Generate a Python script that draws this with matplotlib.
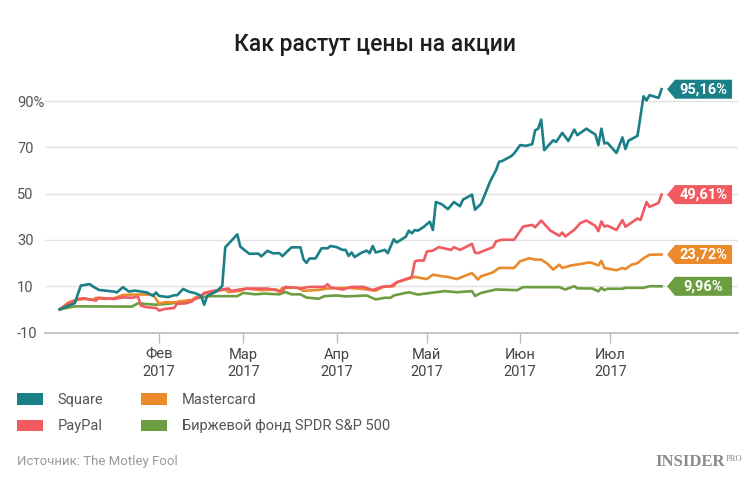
import pandas as pd
import matplotlib
matplotlib.use("Agg")
import matplotlib.pyplot as plt
import matplotlib.dates as mdates
import matplotlib.transforms as mtransforms
from matplotlib.patches import Patch, Polygon

plt.rcParams["font.family"] = ["Roboto", "DejaVu Sans"]

# дни от 1 января 2017, значения в % изменения цены
start = pd.Timestamp("2017-01-01")

sq_days = [-2, 3, 5, 8, 9, 11, 16, 17, 19, 21, 23, 27, 29, 30, 31, 34, 36, 37, 39, 41,
           43, 45, 46, 47, 50, 52, 53, 57, 58, 61, 64, 65, 67, 69, 71, 72, 75, 78, 79, 80,
           81, 83, 85, 87, 88, 90, 92, 93, 94, 95, 96, 98, 100, 101, 102, 103, 106, 107, 109, 110,
           113, 114, 115, 116, 117, 119, 121, 122, 123, 125, 127, 129, 131, 132, 135, 136, 138, 139, 141, 143,
           144, 145, 148, 149, 151, 153, 155, 156, 157, 158, 159, 162, 163, 165, 167, 169, 170, 173, 175, 176,
           177, 178, 179, 180, 183, 185, 186, 187, 190, 192, 193, 194, 197, 198]
sq_vals = [0, 2.7, 10.3, 10.9, 9.9, 8.4, 7.7, 7.3, 9.6, 7.7, 8.1, 7.3, 5.8, 7.3, 5.8, 5.3, 6.1, 6.1, 8.8, 7.6,
           7.0, 5.8, 2.0, 5.8, 7.7, 10.1, 26.8, 32.4, 27.1, 24.0, 24.1, 22.9, 25.3, 24.2, 24.3, 23.0, 26.8, 26.8, 21.6, 20.1,
           22.0, 22.0, 26.4, 26.4, 27.4, 26.9, 25.7, 25.7, 23.1, 24.6, 22.6, 24.3, 25.4, 24.3, 27.4, 24.6, 25.7, 24.3, 30.3, 28.9,
           31.4, 34.0, 32.9, 34.3, 34.0, 35.7, 37.9, 34.3, 46.4, 45.4, 43.3, 46.4, 44.6, 47.4, 49.6, 43.1, 45.6, 48.7, 55.2, 60.2,
           63.8, 64.1, 66.2, 67.4, 71.0, 70.7, 71.4, 77.4, 78.1, 82.0, 68.8, 73.1, 72.4, 76.3, 72.8, 77.7, 75.3, 78.1, 76.4, 75.6,
           71.0, 78.1, 71.7, 72.0, 67.6, 74.3, 69.3, 72.9, 75.0, 92.1, 90.3, 92.6, 91.4, 95.16]

pp_days = [-2, 1, 4, 6, 10, 11, 16, 19, 22, 24, 25, 27, 30, 31, 33, 36, 37, 40, 42, 43,
           45, 46, 49, 54, 55, 60, 67, 71, 72, 73, 76, 78, 81, 86, 87, 88, 92, 95, 99, 102,
           105, 108, 110, 113, 115, 116, 117, 119, 120, 122, 124, 128, 129, 131, 135, 136, 137, 142, 143, 145,
           149, 152, 155, 156, 158, 161, 164, 165, 166, 169, 171, 173, 176, 177, 178, 179, 180, 183, 185, 186,
           190, 191, 193, 194, 197, 198]
pp_vals = [0, 2.6, 4.5, 4.8, 3.8, 5.0, 4.5, 5.2, 5.0, 5.5, 1.6, 0.9, 0.6, -0.5, 0.2, 0.6, 2.4, 2.6, 3.5, 4.6,
           5.5, 7.1, 8.0, 9.0, 8.0, 9.0, 9.0, 8.0, 7.8, 9.7, 9.4, 9.1, 9.7, 9.7, 10.9, 9.5, 8.6, 9.7, 9.7, 8.3,
           9.7, 10.0, 11.7, 13.1, 14.0, 20.7, 21.1, 21.1, 25.0, 25.4, 26.9, 25.7, 26.9, 25.7, 28.3, 24.5, 24.3, 26.9, 29.4, 30.1,
           30.1, 35.8, 36.5, 35.5, 38.4, 34.1, 31.8, 33.2, 31.5, 34.4, 37.3, 38.4, 36.1, 33.8, 38.0, 35.8, 36.2, 34.3, 38.6, 35.7,
           39.3, 38.6, 46.4, 44.3, 46.0, 49.61]

ma_days = [-2, 1, 4, 6, 9, 10, 13, 16, 19, 22, 25, 29, 30, 31, 33, 36, 38, 42, 43, 45,
           46, 53, 54, 58, 60, 65, 70, 71, 72, 77, 79, 84, 87, 90, 94, 98, 103, 106, 109, 110,
           113, 116, 120, 122, 125, 127, 130, 135, 137, 138, 142, 144, 149, 151, 154, 156, 158, 160, 162, 164,
           165, 168, 171, 174, 175, 177, 178, 179, 183, 185, 186, 188, 190, 192, 194, 198]
ma_vals = [0, 3.1, 4.1, 4.5, 4.1, 5.0, 4.5, 4.8, 6.2, 6.4, 6.4, 6.4, 4.5, 2.4, 3.1, 3.0, 3.5, 4.1, 5.1, 6.0,
           6.8, 8.6, 7.5, 8.0, 9.0, 8.3, 8.6, 7.5, 9.3, 9.4, 8.0, 8.4, 9.0, 9.2, 9.3, 8.9, 8.1, 10.0, 10.0, 11.7,
           12.9, 14.0, 13.1, 15.0, 14.3, 14.0, 13.1, 15.7, 12.9, 14.3, 16.0, 17.9, 17.9, 20.8, 22.1, 21.5, 21.5, 19.8, 17.2, 19.3,
           17.9, 19.0, 19.6, 20.3, 20.0, 19.0, 21.0, 17.9, 16.9, 17.9, 17.4, 19.3, 20.0, 22.1, 23.6, 23.72]

spy_days = [-2, 3, 22, 24, 26, 30, 34, 38, 42, 43, 45, 48, 57, 59, 63, 66, 71, 73, 75, 78,
            80, 84, 86, 90, 93, 95, 100, 103, 106, 108, 109, 114, 117, 123, 126, 130, 135, 136, 138, 143,
            150, 152, 164, 166, 169, 170, 175, 177, 178, 179, 180, 185, 186, 192, 194, 198]
spy_vals = [0, 1.3, 1.2, 2.6, 2.4, 2.0, 2.4, 3.1, 3.8, 4.6, 5.2, 5.7, 5.7, 7.1, 6.5, 6.8, 6.5, 7.5, 6.5, 6.5,
            5.1, 4.6, 5.7, 6.0, 5.6, 5.7, 6.0, 4.3, 5.0, 5.0, 6.0, 7.4, 6.4, 7.4, 7.9, 7.4, 7.9, 5.8, 7.1, 8.6,
            8.3, 9.6, 9.6, 8.6, 10.0, 9.1, 9.0, 7.8, 9.3, 8.3, 8.9, 8.9, 9.3, 9.3, 10.0, 9.96]

names = ["Square", "PayPal", "Mastercard", "Биржевой фонд SPDR S&P 500"]
colors = ["#1a7f86", "#f15b60", "#ea8a2b", "#6c9d40"]
end_labels = ["95,16%", "49,61%", "23,72%", "9,96%"]

y_ticks = [-10, 10, 30, 50, 70, 90]
y_labels = ["-10", "10", "30", "50", "70", "90%"]
month_labels = ["Фев\n2017", "Мар\n2017", "Апр\n2017", "Май\n2017", "Июн\n2017", "Июл\n2017"]


def to_dates(days):
    return start + pd.to_timedelta(days, unit="D")


series = [(sq_days, sq_vals), (pp_days, pp_vals), (ma_days, ma_vals), (spy_days, spy_vals)]

fig = plt.figure(figsize=(7.5, 4.84), dpi=100)
ax = fig.add_axes([45 / 750, 1 - 332.5 / 484, (738 - 45) / 750, (332.5 - 78) / 484])

# рисуем снизу вверх: S&P, PayPal, Mastercard, Square
for i in [3, 1, 2, 0]:
    days, vals = series[i]
    ax.plot(to_dates(days), vals, color=colors[i], lw=1.9, solid_joinstyle="round", zorder=3 + (3 - i))

ax.set_ylim(-10, 100)
ax.set_xlim(start - pd.Timedelta(days=6.9), start + pd.Timedelta(days=223.4))

ax.set_yticks(y_ticks, y_labels)
ax.tick_params(axis="y", length=0, pad=20, labelsize=10.5, labelcolor="#555555")
for lbl in ax.get_yticklabels():
    lbl.set_horizontalalignment("left")

months = pd.date_range("2017-02-01", periods=6, freq="MS")
ax.set_xticks(months, month_labels)
ax.tick_params(axis="x", length=7, width=1, color="#bbbbbb", pad=4, labelsize=10.5, labelcolor="#444444")
for lbl in ax.get_xticklabels():
    lbl.set_linespacing(1.25)

ax.grid(axis="y", color="#e2e2e2", lw=1)
ax.set_axisbelow(True)
for s in ["top", "right", "left"]:
    ax.spines[s].set_visible(False)
ax.spines["bottom"].set_color("#bbbbbb")
ax.spines["bottom"].set_linewidth(1.2)

# ярлыки с последним значением
for i, (days, vals) in enumerate(series):
    xd = mdates.date2num(to_dates(days)[-1])
    yd = vals[-1]
    trans = fig.dpi_scale_trans + mtransforms.ScaledTranslation(xd, yd, ax.transData)
    pts = [(5.5, 0), (13.5, 9.5), (70.5, 9.5), (70.5, -9.5), (13.5, -9.5)]
    poly = Polygon([(px / 100, py / 100) for px, py in pts], closed=True,
                   facecolor=colors[i], edgecolor="none", transform=trans, clip_on=False, zorder=10)
    ax.add_patch(poly)
    ax.text(0.42, 0, end_labels[i], transform=trans, ha="center", va="center",
            color="white", fontsize=10.5, fontweight="bold", zorder=11)

fig.text(0.5, 1 - 45 / 484, "Как растут цены на акции", ha="center", va="center",
         fontsize=16.5, fontweight="medium", color="#1e1e1e")

handles = [Patch(facecolor=c, edgecolor="none") for c in colors]
fig.legend(handles, names, loc="upper left", bbox_to_anchor=(17 / 750, 1 - 393 / 484), ncol=2,
           frameon=False, fontsize=10.5, handlelength=1.8, handleheight=0.85, handletextpad=1.0,
           columnspacing=2.55, labelspacing=0.85, borderpad=0, borderaxespad=0, labelcolor="#555555")

fig.text(17 / 750, 1 - 462 / 484, "Источник: The Motley Fool", ha="left", va="center",
         fontsize=9.5, color="#9a9a9a")
fig.text(725 / 750, 1 - 462 / 484, "INSIDER", ha="right", va="center",
         family="Liberation Serif", fontweight="bold", fontsize=12, color="#8a8a8a")
fig.text(726 / 750, 1 - 455 / 484, "PRO", ha="left", va="top",
         family="Liberation Serif", fontsize=6, color="#8a8a8a")

fig.savefig("out.png", dpi=100, facecolor="white")
